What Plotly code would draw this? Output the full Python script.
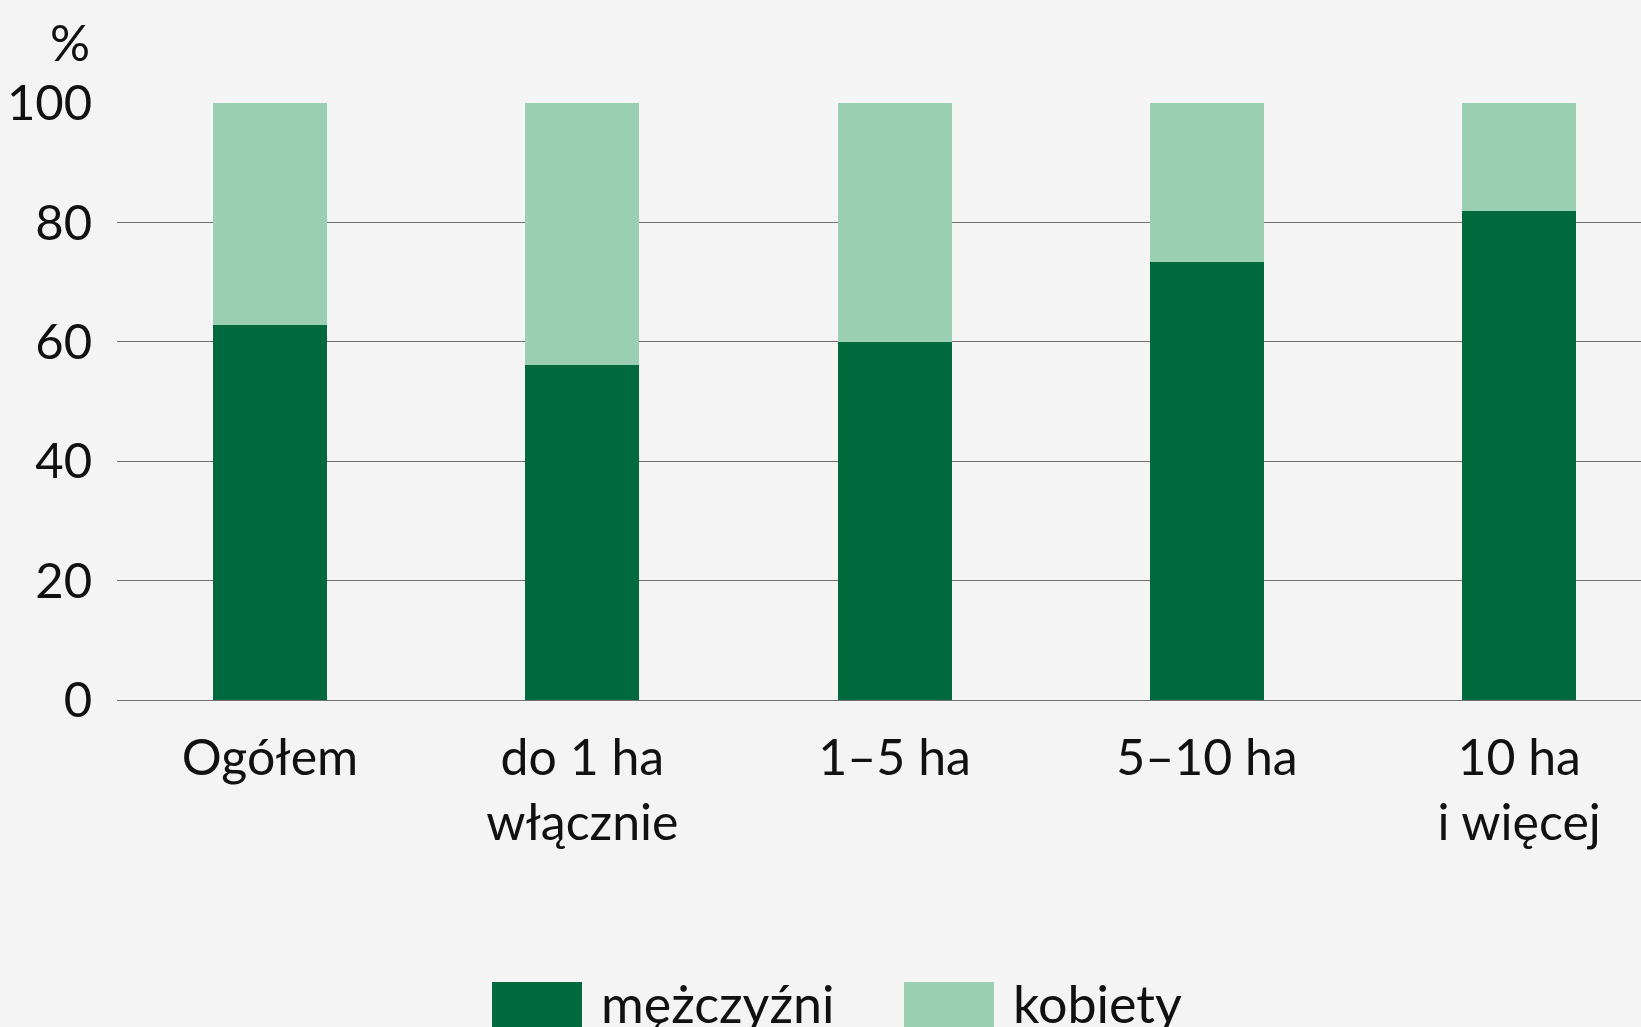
import plotly.graph_objects as go

categories = ["Ogółem", "do 1 ha<br>włącznie", "1–5 ha", "5–10 ha", "10 ha<br>i więcej"]
men = [62.8, 56.1, 59.9, 73.4, 81.9]
women = [37.2, 43.9, 40.1, 26.6, 18.1]
series_names = ["mężczyźni", "kobiety"]
colors = ["#00693D", "#9ACFB3"]
y_ticks = [0, 20, 40, 60, 80, 100]

FONT = "Lato"
BG = "#F4F4F4"

fig = go.Figure()
for name, vals, col in zip(series_names, [men, women], colors):
    fig.add_trace(go.Bar(x=categories, y=vals, name=name, marker=dict(color=col, line=dict(width=0)),
                         width=0.365, showlegend=False))

W, H = 1641, 1027
ml, mr, mt, mb = 117, 0, 103, 327
fig.update_layout(
    width=W, height=H, barmode="stack",
    paper_bgcolor=BG, plot_bgcolor=BG,
    margin=dict(l=ml, r=mr, t=mt, b=mb, pad=0),
    font=dict(family=FONT, size=50, color="#111111"),
    xaxis=dict(range=[-0.49, 4.39], showgrid=False, showline=False, zeroline=False,
               ticks="outside", ticklen=14, tickcolor="rgba(0,0,0,0)",
               tickfont=dict(size=50)),
    yaxis=dict(range=[0, 100], tickvals=y_ticks, showgrid=True, gridcolor="#707070", gridwidth=1.2,
               zeroline=True, zerolinecolor="#707070", zerolinewidth=1.2, showline=False,
               ticks="outside", ticklen=14, tickcolor="rgba(0,0,0,0)", tickfont=dict(size=49)),
    bargap=0,
)

fig.add_annotation(text="%", xref="paper", yref="paper", x=-0.0164, y=1.103, xanchor="right",
                   yanchor="middle", showarrow=False, font=dict(size=50))

# legend drawn manually (large swatches)
pw = W - ml - mr
ph = H - mt - mb
def px_x(p):
    return (p - ml) / pw
def px_y(p):
    return (H - mb - p) / ph

legend_items = [(492, 599), (904, 1011)]
for (sx, tx), name, col in zip(legend_items, series_names, colors):
    fig.add_shape(type="rect", xref="paper", yref="paper", x0=px_x(sx), x1=px_x(sx + 90),
                  y0=px_y(982), y1=px_y(1040), fillcolor=col, line=dict(width=0), layer="above")
    fig.add_annotation(text=name, xref="paper", yref="paper", x=px_x(tx), y=px_y(1003),
                       xanchor="left", yanchor="middle", showarrow=False, font=dict(size=52))

fig.write_html("out.html", config={"displayModeBar": False},
               post_script="document.body.style.margin='0';document.body.style.background='#F4F4F4';")
